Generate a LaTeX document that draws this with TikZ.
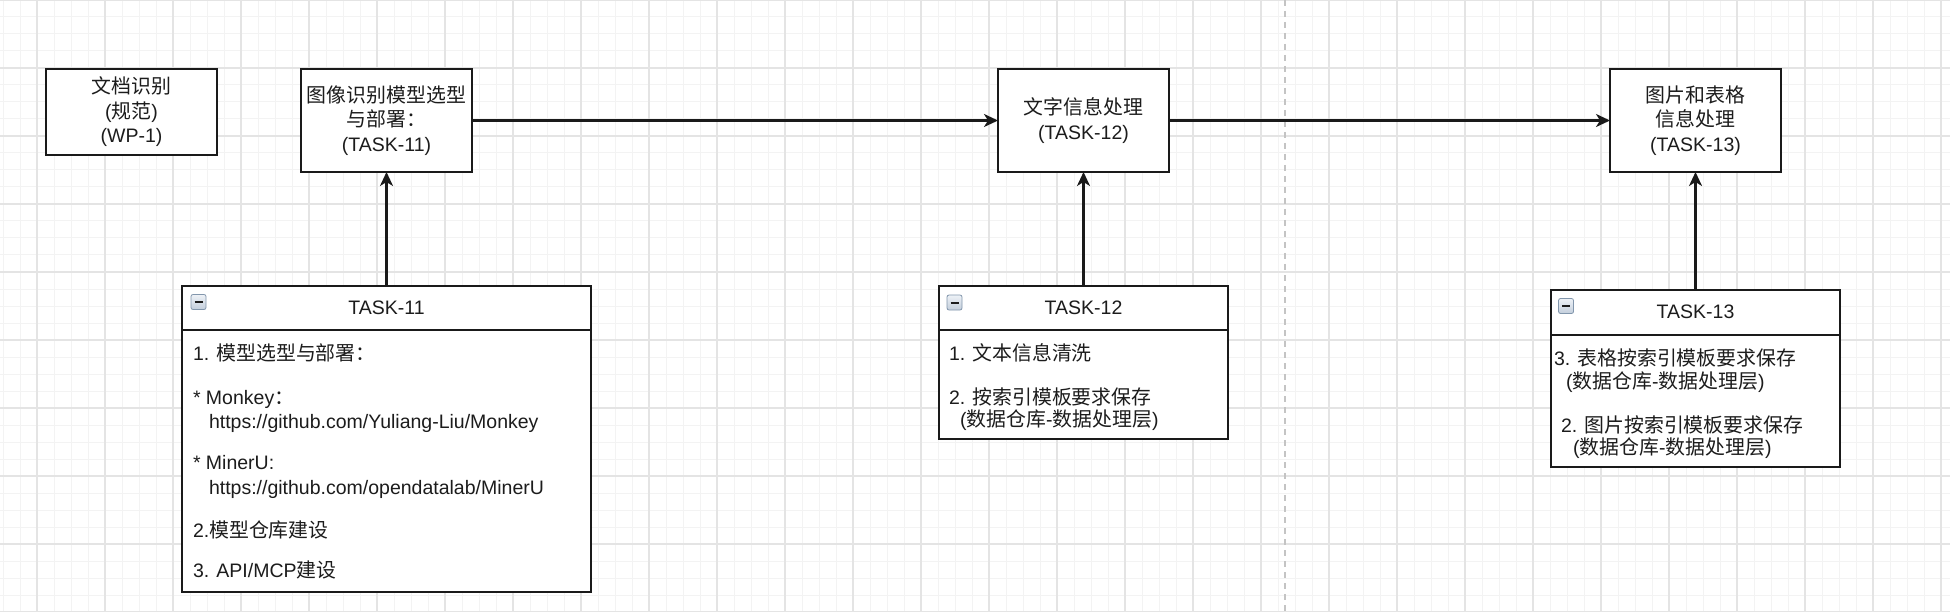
\documentclass[tikz,border=0pt]{standalone}
\usepackage{fontspec}
\setmainfont{Liberation Sans}
\newfontfamily\cjk{Noto Sans CJK SC}[Scale=1.02]
\usetikzlibrary{arrows.meta,calc}
\definecolor{gmaj}{HTML}{E4E4E4}
\definecolor{gmin}{HTML}{F3F3F3}
\definecolor{ink}{HTML}{1A1A1A}
\definecolor{txt}{HTML}{1C1C1C}
\definecolor{dashc}{HTML}{C4C4C4}
\definecolor{icb}{HTML}{8296AC}
\definecolor{ict}{HTML}{EEF2F7}
\definecolor{icbot}{HTML}{C3CEDB}
\begin{document}
\begin{tikzpicture}[x=1pt,y=-1pt,
  every node/.style={font=\fontsize{19.5}{24.5}\selectfont, text=txt, inner sep=0pt, outer sep=0pt},
  box/.style={draw=ink, line width=2.1pt, fill=white, minimum width=171pt, align=center},
  listbox/.style={draw=ink, line width=2.1pt, fill=white},
  sepline/.style={draw=ink, line width=2.1pt},
  item/.style={anchor=base west},
  head/.style={anchor=base},
  arr/.style={draw=ink, line width=2.1pt, -{Stealth[length=14pt,width=13pt,inset=4pt]}},
  icon/.style={draw=icb, line width=0.8pt, rounded corners=2pt, top color=ict, bottom color=icbot, minimum size=15pt},
  minorgrid/.style={draw=gmin, line width=1pt},
  majorgrid/.style={draw=gmaj, line width=1.3pt},
  divider/.style={draw=dashc, line width=1.5pt, dash pattern=on 6pt off 5pt},
]
\useasboundingbox[fill=white] (0,0) rectangle (1950,612);
% grid
\foreach \i in {0,...,114} \draw[minorgrid] ({3+17*\i},0) -- ({3+17*\i},612);
\foreach \j in {0,...,36} \draw[minorgrid] (0,{17*\j}) -- (1950,{17*\j});
\foreach \i in {0,...,28} \draw[majorgrid] ({37+68*\i},0) -- ({37+68*\i},612);
\foreach \j in {0,...,9} \draw[majorgrid] (0,{68*\j}) -- (1950,{68*\j});
% divider
\coordinate (dtop) at (1285,0);
\coordinate (dbot) at (1285,612);
\draw[divider] (dtop) -- (dbot);

% top boxes
\node[box, minimum height=86pt] (wp) at (131.5,112) {{\cjk 文档识别}\\({\cjk 规范})\\(WP-1)};
\node[box, minimum height=103pt] (t11) at (386.5,120.5) {{\cjk 图像识别模型选型}\\{\cjk 与部署：}\\(TASK-11)};
\node[box, minimum height=103pt] (t12) at (1083.5,120.5) {{\cjk 文字信息处理}\\(TASK-12)};
\node[box, minimum height=103pt] (t13) at (1695.5,120.5) {{\cjk 图片和表格}\\{\cjk 信息处理}\\(TASK-13)};

% list box TASK-11
\node[listbox, minimum width=409pt, minimum height=306pt] (l11) at (386.5,439) {};
\draw[sepline] ($(l11.north west)+(0,44)$) -- ($(l11.north east)+(0,44)$);
\node[head] (h11) at (386.5,314) {TASK-11};
\node[icon] (i11) at (198.5,302) {\rule{8pt}{2pt}};
\node[item] (a11) at (193,360) {1. {\cjk 模型选型与部署：}};
\node[item] (b11) at (193,404) {* Monkey{\cjk ：}};
\node[item] (c11) at (209,428) {https://github.com/Yuliang-Liu/Monkey};
\node[item] (d11) at (193,469) {* MinerU:};
\node[item] (e11) at (209,494) {https://github.com/opendatalab/MinerU};
\node[item] (f11) at (193,537) {2.{\cjk 模型仓库建设}};
\node[item] (g11) at (193,577) {3. API/MCP{\cjk 建设}};

% list box TASK-12
\node[listbox, minimum width=289pt, minimum height=153pt] (l12) at (1083.5,362.5) {};
\draw[sepline] ($(l12.north west)+(0,44)$) -- ($(l12.north east)+(0,44)$);
\node[head] (h12) at (1083.5,314) {TASK-12};
\node[icon] (i12) at (954.5,302.5) {\rule{8pt}{2pt}};
\node[item] (a12) at (949,360) {1. {\cjk 文本信息清洗}};
\node[item] (b12) at (949,404) {2. {\cjk 按索引模板要求保存}};
\node[item] (c12) at (960,426) {({\cjk 数据仓库}-{\cjk 数据处理层})};

% list box TASK-13
\node[listbox, minimum width=289pt, minimum height=177pt] (l13) at (1695.5,378.5) {};
\draw[sepline] ($(l13.north west)+(0,45)$) -- ($(l13.north east)+(0,45)$);
\node[head] (h13) at (1695.5,318) {TASK-13};
\node[icon] (i13) at (1566,306) {\rule{8pt}{2pt}};
\node[item] (a13) at (1554,365) {3. {\cjk 表格按索引模板要求保存}};
\node[item] (b13) at (1566,388) {({\cjk 数据仓库}-{\cjk 数据处理层})};
\node[item] (c13) at (1561,432) {2. {\cjk 图片按索引模板要求保存}};
\node[item] (d13) at (1573,454) {({\cjk 数据仓库}-{\cjk 数据处理层})};

% connectors
\draw[arr] (t11.east) -- (t12.west);
\draw[arr] (t12.east) -- (t13.west);
\draw[arr] (l11.north) -- (t11.south);
\draw[arr] (l12.north) -- (t12.south);
\draw[arr] (l13.north) -- (t13.south);
\end{tikzpicture}
\end{document}
